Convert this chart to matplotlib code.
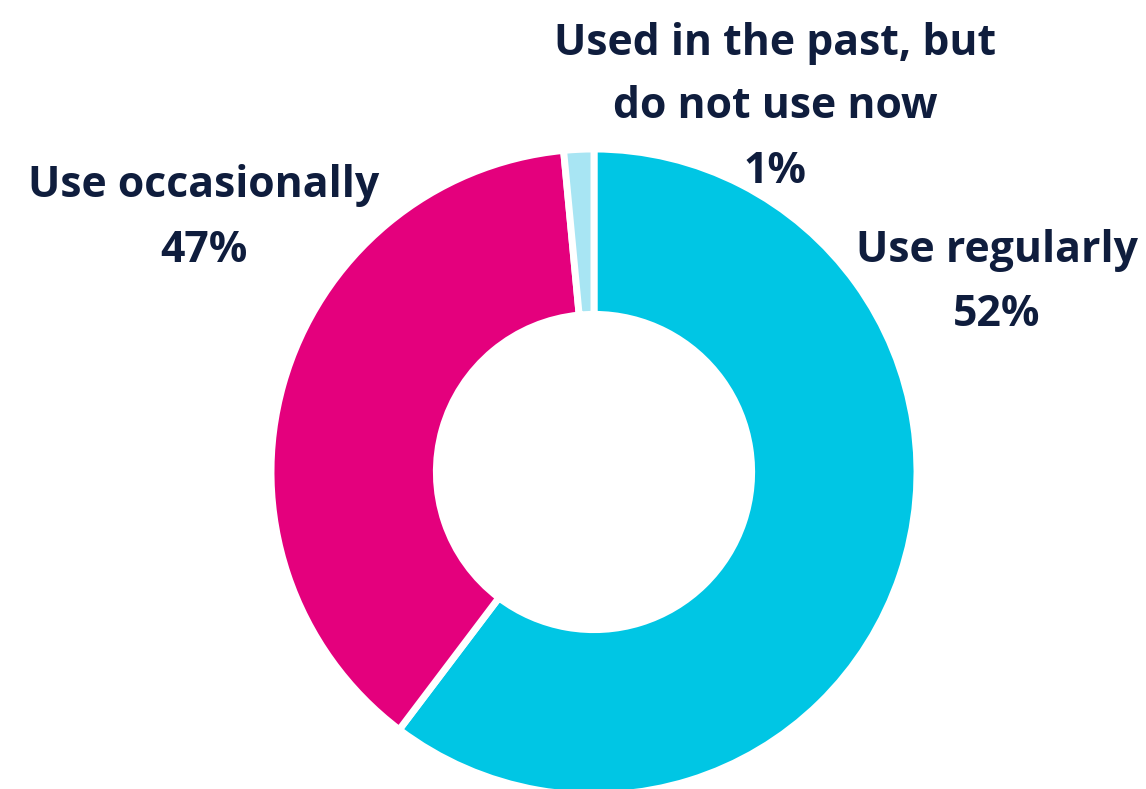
import matplotlib
matplotlib.use("Agg")
import matplotlib.pyplot as plt

# Data
categories = ["Use regularly", "Use occasionally", "Used in the past, but\ndo not use now"]
shares = [60.3, 38.2, 1.5]          # wedge sizes as drawn
pct_labels = ["52%", "47%", "1%"]   # printed labels
colors = ["#00C6E4", "#E4007D", "#A8E5F3"]

W, H = 1146, 789
fig = plt.figure(figsize=(W / 100, H / 100), dpi=100)
fig.patch.set_facecolor("white")

cx, cy, R = 594, 789 - 472, 323
ax = fig.add_axes([(cx - R) / W, (cy - R) / H, 2 * R / W, 2 * R / H])
ax.pie(shares, colors=colors, startangle=90, counterclock=False, radius=1,
       wedgeprops=dict(width=0.512, edgecolor="white", linewidth=5))
ax.set_xlim(-1, 1)
ax.set_ylim(-1, 1)
ax.set_aspect("equal")
ax.axis("off")

txt_color = "#0F1D3D"
font = dict(family=["Open Sans", "Noto Sans", "DejaVu Sans"], fontweight="bold", fontsize=30.8,
            color=txt_color, ha="center", va="baseline")

def put(lines, x, ys):
    for line, y in zip(lines, ys):
        fig.text(x / W, 1 - y / H, line, **font)

put(categories[0].split("\n") + [pct_labels[0]], 997, [262, 326])
put(categories[1].split("\n") + [pct_labels[1]], 204, [197, 262])
put(categories[2].split("\n") + [pct_labels[2]], 775, [55, 118, 183])

fig.savefig("out.png", dpi=100, facecolor="white")
